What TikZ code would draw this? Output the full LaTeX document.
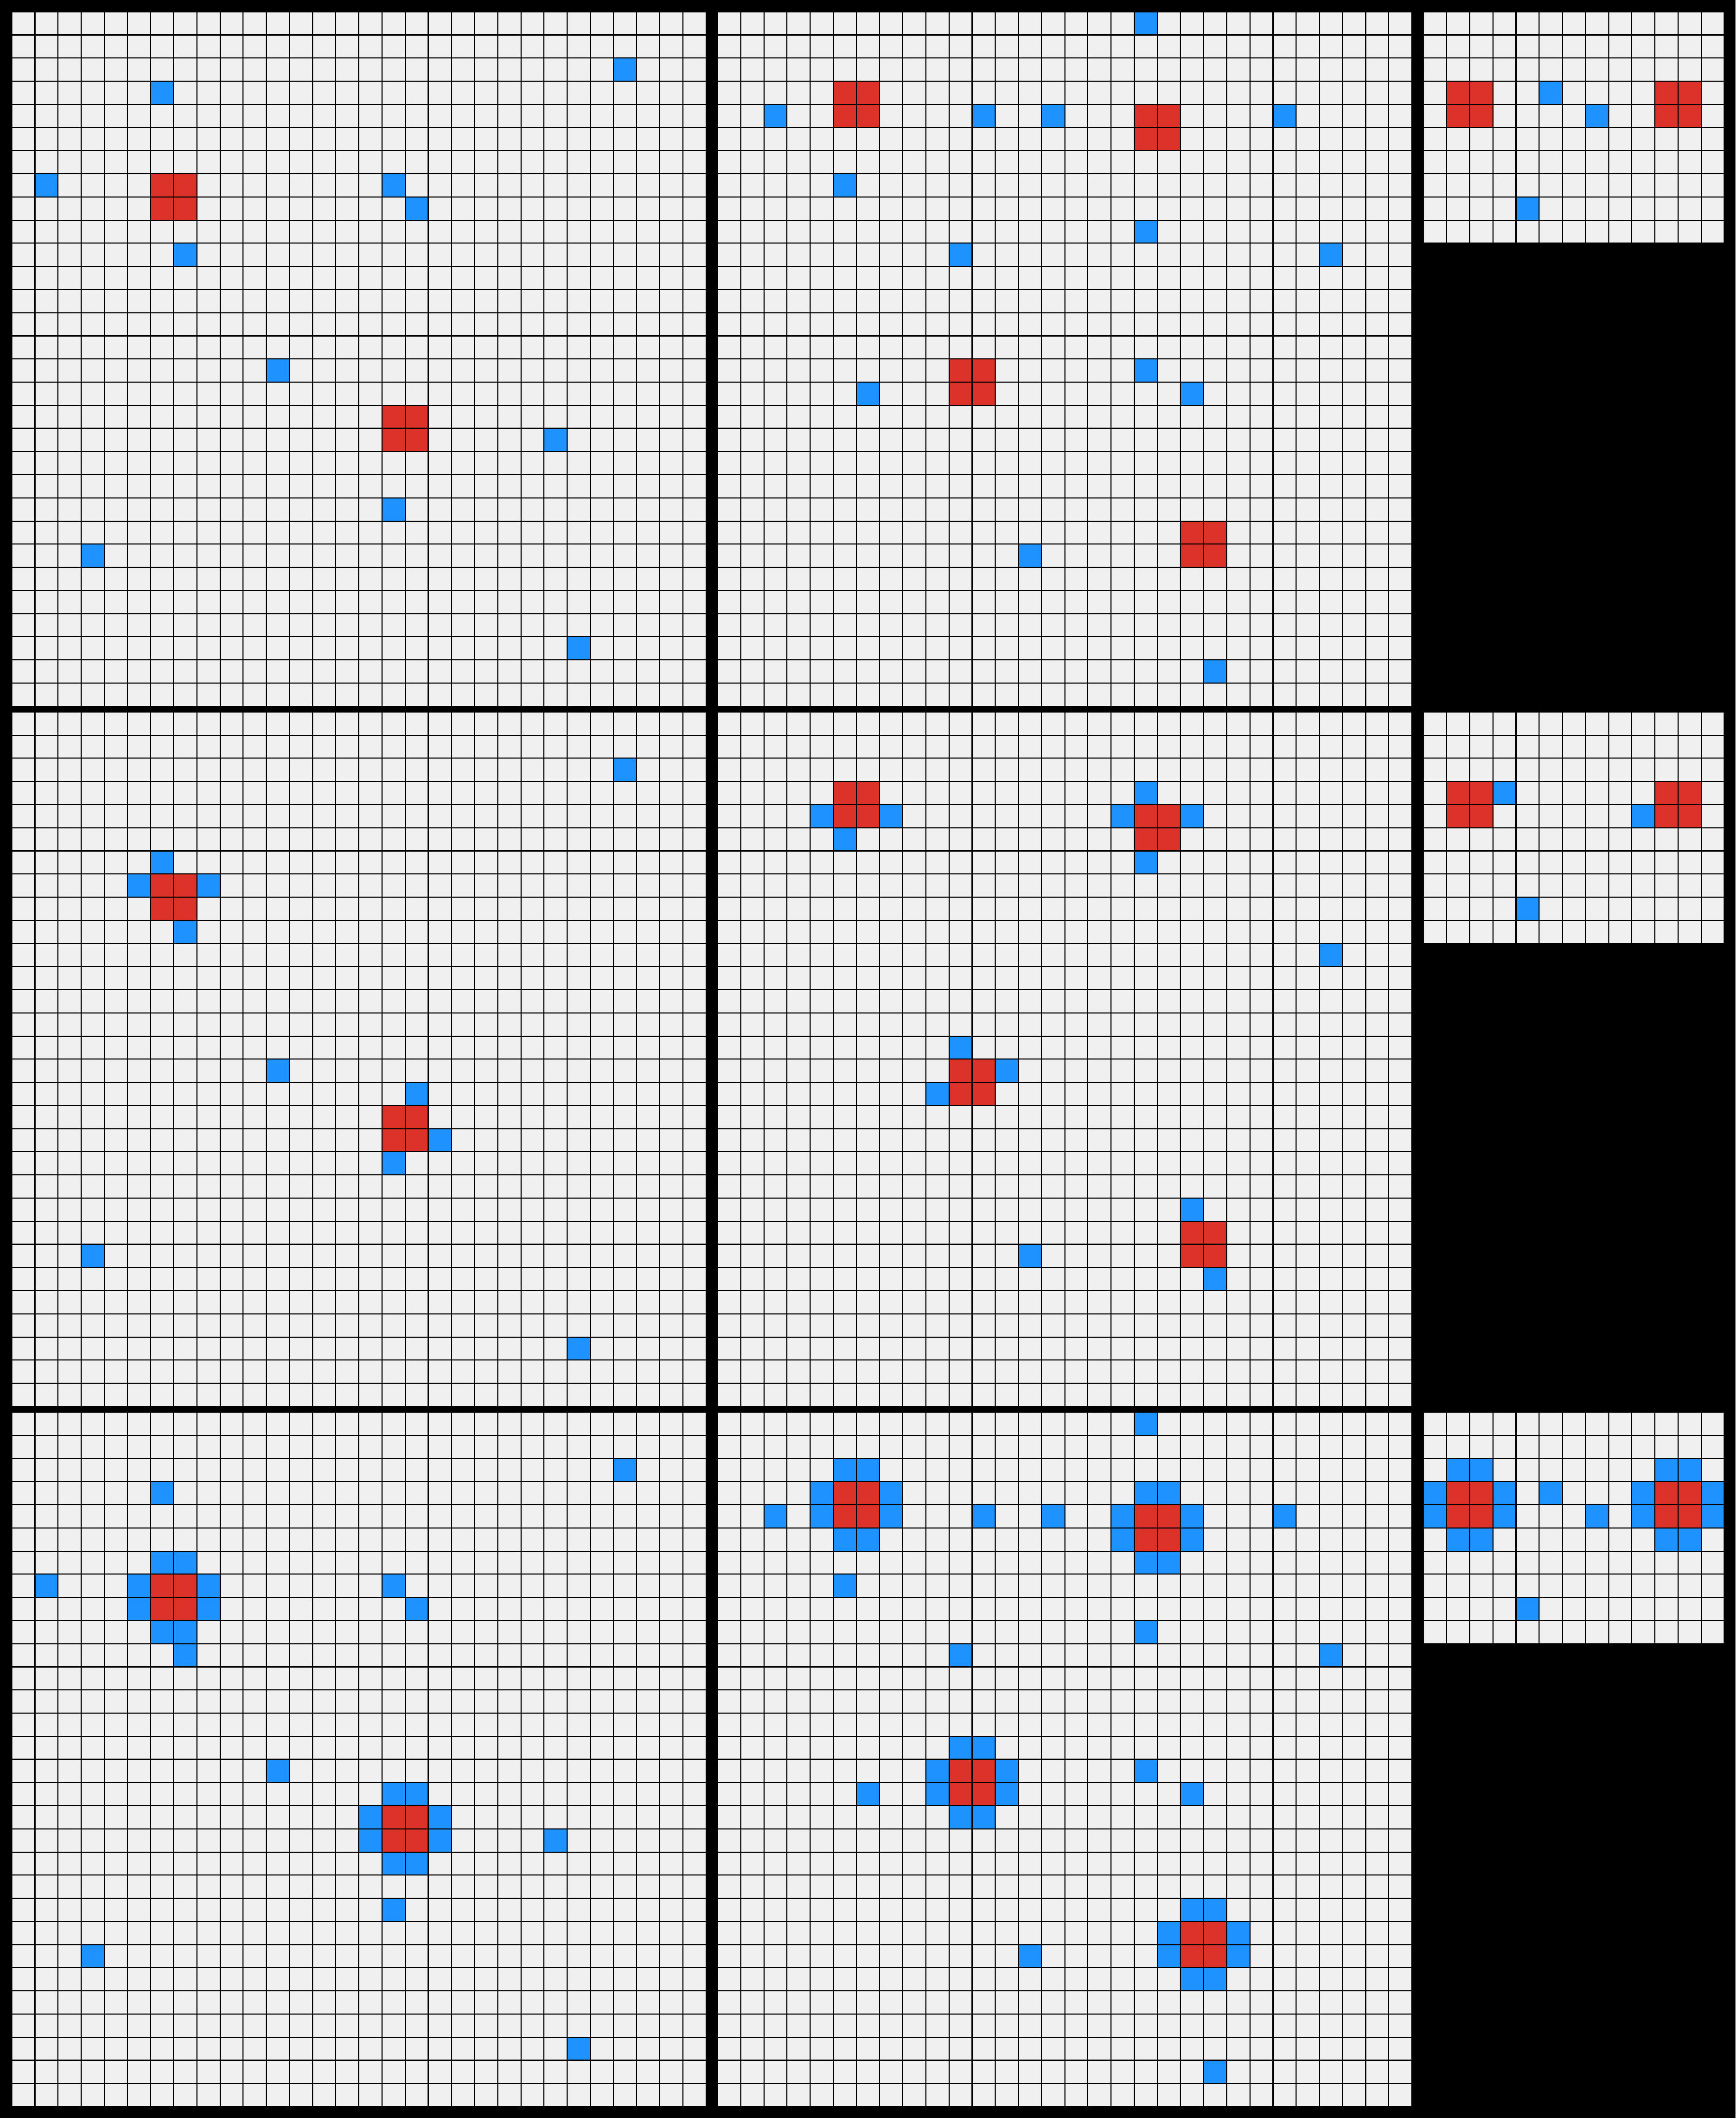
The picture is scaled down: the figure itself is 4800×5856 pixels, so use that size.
\documentclass[tikz,border=0pt]{standalone}
\definecolor{cgray}{HTML}{F0F0F0}
\definecolor{cblue}{HTML}{1E93FF}
\definecolor{cred}{HTML}{DD3229}
\tikzset{bluecell/.style={fill=cblue},redcell/.style={fill=cred},emptycell/.style={fill=cgray},gridline/.style={fill=black}}
% #1 x0, #2 y0, #3 ncols, #4 nrows, #5 ncols-1, #6 nrows-1
\newcommand\gridpanel[6]{%
  \fill[emptycell] (#1,#2) rectangle ++({64*#3-3},{64*#4-3});
  \foreach \k in {1,...,#5} {\fill[gridline] ({#1+64*\k-3},#2) rectangle ++(3,{64*#4-3});}
  \foreach \k in {1,...,#6} {\fill[gridline] (#1,{#2+64*\k-3}) rectangle ++({64*#3-3},3);}
}
\newcommand\bluecells[3]{%
  \foreach \c/\r in {#3} {\fill[bluecell] ({#1+64*\c},{#2+64*\r}) rectangle ++(61,61);}
}
\newcommand\redblk[4]{%
  \foreach \dc/\dr in {0/0,1/0,0/1,1/1} {\fill[redcell] ({#1+64*(#3+\dc)},{#2+64*(#4+\dr)}) rectangle ++(61,61);}
}
\newcommand\ringat[4]{%
  \foreach \dc/\dr in {0/-1,1/-1,-1/0,-1/1,2/0,2/1,0/2,1/2} {\fill[bluecell] ({#1+64*(#3+(\dc))},{#2+64*(#4+(\dr))}) rectangle ++(61,61);}
}
\begin{document}
\begin{tikzpicture}[x=0.01cm,y=-0.01cm]
\fill[black] (0,0) rectangle (4800,5856);
\useasboundingbox (0,0) rectangle (4800,5856);
% ---------- row 1 (inputs) ----------
\gridpanel{34}{34}{30}{30}{29}{29}
\redblk{34}{34}{6}{7}\redblk{34}{34}{16}{17}
\bluecells{34}{34}{26/2,6/3,1/7,16/7,17/8,7/10,11/15,23/18,16/21,3/23,24/27}
\gridpanel{1986}{34}{30}{30}{29}{29}
\redblk{1986}{34}{5}{3}\redblk{1986}{34}{18}{4}\redblk{1986}{34}{10}{15}\redblk{1986}{34}{20}{22}
\bluecells{1986}{34}{18/0,2/4,11/4,14/4,24/4,5/7,18/9,10/10,26/10,18/15,6/16,20/16,13/23,21/28}
\gridpanel{3938}{34}{13}{10}{12}{9}
\redblk{3938}{34}{1}{3}\redblk{3938}{34}{10}{3}
\bluecells{3938}{34}{5/3,7/4,4/8}
% ---------- row 2 (outputs) ----------
\gridpanel{34}{1970}{30}{30}{29}{29}
\redblk{34}{1970}{6}{7}\redblk{34}{1970}{16}{17}
\bluecells{34}{1970}{26/2,6/6,5/7,8/7,7/9,11/15,17/16,18/18,16/19,3/23,24/27}
\gridpanel{1986}{1970}{30}{30}{29}{29}
\redblk{1986}{1970}{5}{3}\redblk{1986}{1970}{18}{4}\redblk{1986}{1970}{10}{15}\redblk{1986}{1970}{20}{22}
\bluecells{1986}{1970}{4/4,7/4,5/5,18/3,17/4,20/4,18/6,26/10,10/14,12/15,9/16,20/21,21/24,13/23}
\gridpanel{3938}{1970}{13}{10}{12}{9}
\redblk{3938}{1970}{1}{3}\redblk{3938}{1970}{10}{3}
\bluecells{3938}{1970}{3/3,9/4,4/8}
% ---------- row 3 ----------
\gridpanel{34}{3906}{30}{30}{29}{29}
\redblk{34}{3906}{6}{7}\redblk{34}{3906}{16}{17}
\ringat{34}{3906}{6}{7}\ringat{34}{3906}{16}{17}
\bluecells{34}{3906}{26/2,6/3,1/7,16/7,17/8,7/10,11/15,23/18,16/21,3/23,24/27}
\gridpanel{1986}{3906}{30}{30}{29}{29}
\redblk{1986}{3906}{5}{3}\redblk{1986}{3906}{18}{4}\redblk{1986}{3906}{10}{15}\redblk{1986}{3906}{20}{22}
\ringat{1986}{3906}{5}{3}\ringat{1986}{3906}{18}{4}\ringat{1986}{3906}{10}{15}\ringat{1986}{3906}{20}{22}
\bluecells{1986}{3906}{18/0,2/4,11/4,14/4,24/4,5/7,18/9,10/10,26/10,18/15,6/16,20/16,13/23,21/28}
\gridpanel{3938}{3906}{13}{10}{12}{9}
\redblk{3938}{3906}{1}{3}\redblk{3938}{3906}{10}{3}
\ringat{3938}{3906}{1}{3}\ringat{3938}{3906}{10}{3}
\bluecells{3938}{3906}{5/3,7/4,4/8}
\end{tikzpicture}
\end{document}
